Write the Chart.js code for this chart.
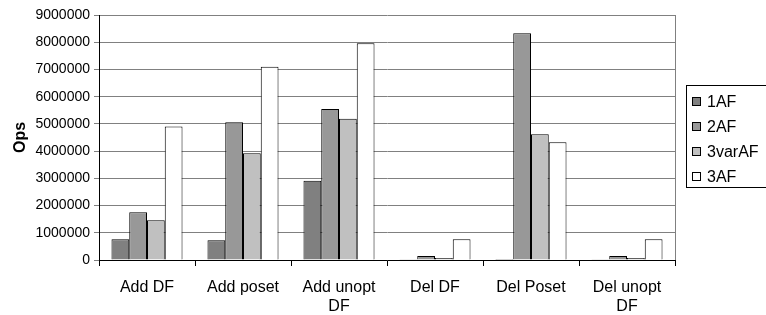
<!DOCTYPE html>
<html>
<head>
<meta charset="utf-8">
<script src="https://cdn.jsdelivr.net/npm/chart.js@4/dist/chart.umd.min.js"></script>
<style>
    html, body { margin: 0; padding: 0; background: #fff; }
    #wrap { width: 766px; height: 315px; }
</style>
</head>
<body>
<div id="wrap"><canvas id="opsChart" width="766" height="315"></canvas></div>
<script>
// Categories and series values
const categories = [["Add DF"], ["Add poset"], ["Add unopt", "DF"], ["Del DF"], ["Del Poset"], ["Del unopt", "DF"]];
const seriesNames = ["1AF", "2AF", "3varAF", "3AF"];
const af1 = [760000, 730000, 2910000, 10000, 40000, 10000];
const af2 = [1750000, 5060000, 5550000, 150000, 8330000, 150000];
const af3var = [1460000, 3920000, 5190000, 70000, 4620000, 70000];
const af3 = [4900000, 7100000, 7960000, 760000, 4330000, 760000];
const yTicks = [0, 1000000, 2000000, 3000000, 4000000, 5000000, 6000000, 7000000, 8000000, 9000000];

const fills = ["#808080", "#989898", "#c0c0c0", "#ffffff"];
const font = "'Liberation Sans', Arial, sans-serif";

// Draws the boxed legend on the right and the right-hand plot border
const frameAndLegend = {
    id: "frameAndLegend",
    afterDraw(chart) {
        const ctx = chart.ctx;
        const area = chart.chartArea;
        ctx.save();
        ctx.strokeStyle = "#808080";
        ctx.lineWidth = 1;
        ctx.beginPath();
        ctx.moveTo(Math.round(area.right) + 0.5, area.top);
        ctx.lineTo(Math.round(area.right) + 0.5, area.bottom);
        ctx.stroke();

        // legend box
        ctx.strokeStyle = "#000";
        ctx.strokeRect(686.5, 85.5, 90, 102);
        ctx.font = "16px " + font;
        ctx.textBaseline = "middle";
        ctx.fillStyle = "#000";
        chart.data.datasets.forEach((ds, i) => {
            const y = 102 + i * 25;
            ctx.fillStyle = ds.backgroundColor;
            ctx.fillRect(692.5, y - 4.5, 8, 8);
            ctx.strokeRect(692.5, y - 4.5, 8, 8);
            ctx.fillStyle = "#000";
            ctx.fillText(ds.label, 707, y + 1);
        });
        ctx.restore();
    }
};

new Chart(document.getElementById("opsChart"), {
    type: "bar",
    data: {
        labels: categories,
        datasets: [af1, af2, af3var, af3].map((vals, i) => ({
            label: seriesNames[i],
            data: vals,
            backgroundColor: fills[i],
            borderColor: "#000",
            borderWidth: 1,
            categoryPercentage: 0.74,
            barPercentage: 1
        }))
    },
    options: {
        responsive: false,
        animation: false,
        layout: { padding: { top: 15, right: 91, left: 0, bottom: 0 } },
        plugins: { legend: { display: false }, tooltip: { enabled: false } },
        scales: {
            x: {
                offset: true,
                grid: { offset: true, drawOnChartArea: false, drawTicks: true, tickLength: 6, color: "#000" },
                border: { color: "#000" },
                ticks: { color: "#000", font: { family: font, size: 16 }, padding: 12, maxRotation: 0 },
                afterFit(scale) { scale.height = 55; }
            },
            y: {
                min: 0,
                max: 9000000,
                afterBuildTicks(scale) { scale.ticks = yTicks.map(v => ({ value: v })); },
                grid: { color: "#808080", tickLength: 5, drawTicks: true },
                border: { color: "#000" },
                ticks: { color: "#000", font: { family: font, size: 14 }, padding: 4, callback: v => String(v) },
                title: { display: true, text: "Ops", color: "#000", font: { family: font, size: 16, weight: "bold" }, padding: { top: 11, bottom: 0 } },
                afterFit(scale) { scale.width = 99; }
            }
        }
    },
    plugins: [frameAndLegend]
});
</script>
</body>
</html>
